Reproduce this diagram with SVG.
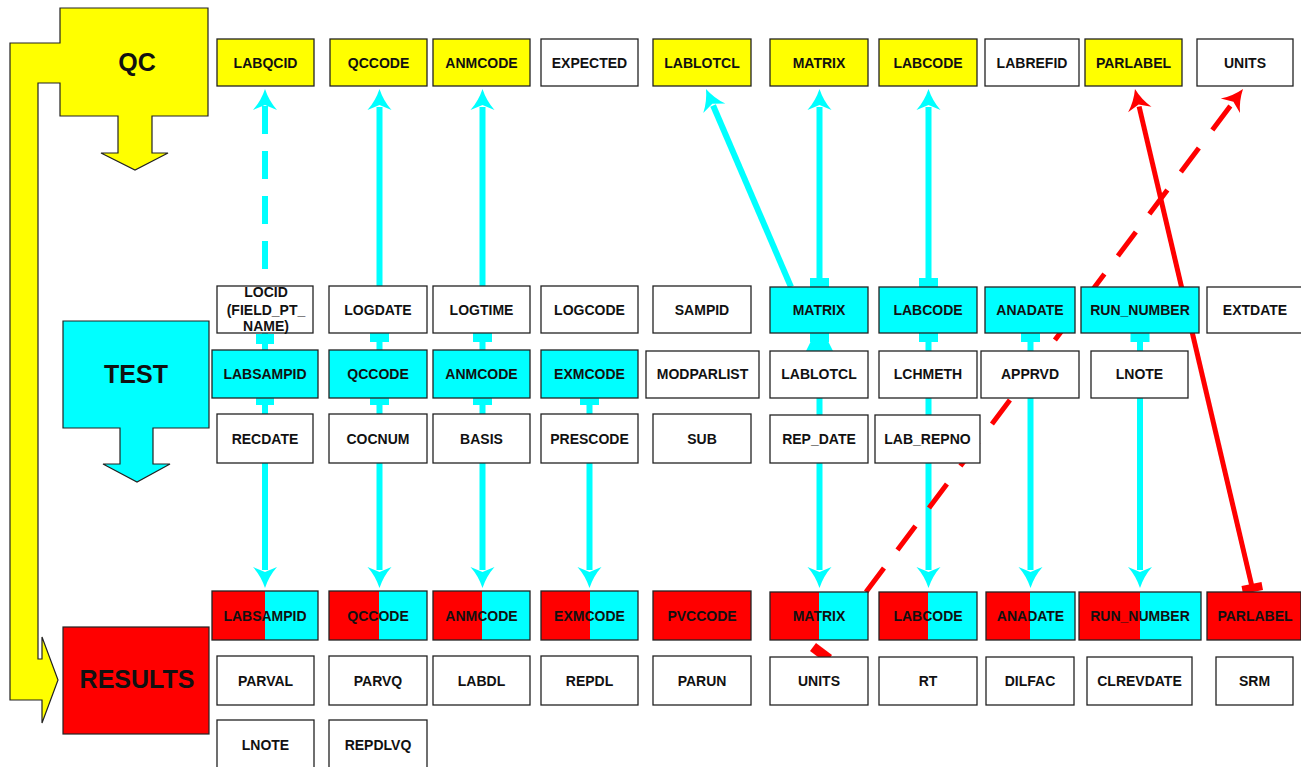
<svg xmlns="http://www.w3.org/2000/svg" width="1301" height="767" viewBox="0 0 1301 767">
<style>
.bx{stroke:#222;stroke-width:1.3}
.w{fill:#fff}.y{fill:#ff0}.c{fill:#0ff}.r{fill:#f00}
.ol{fill:none;stroke:#222;stroke-width:1.3}
.t{font-family:"Liberation Sans",Arial,sans-serif;font-weight:bold;font-size:14px;text-anchor:middle;fill:#111}
.big{font-size:25px}
.cl{stroke:#0ff;stroke-width:6;fill:none}
.rl{stroke:#f00;stroke-width:5;fill:none}
.cf{fill:#0ff}.rf{fill:#f00}
</style>
<defs>
<marker id="ac" markerUnits="userSpaceOnUse" orient="auto" refX="0" refY="0" markerWidth="40" markerHeight="40" overflow="visible">
<path d="M18,0 Q6,-4 -3,-12 L2,0 L-3,12 Q6,4 18,0 Z" fill="#0ff"/>
</marker>
<marker id="ar" markerUnits="userSpaceOnUse" orient="auto" refX="0" refY="0" markerWidth="40" markerHeight="40" overflow="visible">
<path d="M18,0 Q6,-4 -3,-12 L2,0 L-3,12 Q6,4 18,0 Z" fill="#f00"/>
</marker>
</defs>
<rect width="1301" height="767" fill="#fff"/>

<g id="flow-shapes">
<path d="M60,8 L208,8 L208,116 L152,116 L152,153 L168,153 L135,170 L101,153 L118,153 L118,116 L60,116 L60,83 L38,83 L38,659 L42,659 L42,637 L58,680 L42,723 L42,700 L10,700 L10,43 L60,43 Z" fill="#ff0" stroke="#222" stroke-width="1.2"/>
<text class="t big" x="137" y="71">QC</text>
</g>
<g id="test-stage">
<path d="M63,321 L209,321 L209,428 L153,428 L153,464 L170,464 L137,482 L103,464 L120,464 L120,428 L63,428 Z" fill="#0ff" stroke="#222" stroke-width="1.2"/>
<text class="t big" x="136" y="383">TEST</text>
</g>
<g id="results-stage">
<rect x="63" y="627" width="146" height="107" fill="#f00" stroke="#222" stroke-width="1.2"/>
<text class="t big" x="137" y="688">RESULTS</text>
</g>

<g id="connectors">
<path class="cl" d="M265,106 L265,350" stroke-dasharray="28 17"/>
<path class="cl" d="M265,121 L265,107" marker-end="url(#ac)"/>
<rect class="cf" x="256" y="334" width="18" height="10"/>
<path class="cl" d="M265,398 L265,570" marker-end="url(#ac)"/>
<rect class="cf" x="256" y="398" width="18" height="7"/>

<path class="cl" d="M379.5,350 L379.5,107" marker-end="url(#ac)"/>
<rect class="cf" x="370" y="333" width="19" height="9"/>
<path class="cl" d="M379.5,398 L379.5,570" marker-end="url(#ac)"/>
<rect class="cf" x="370" y="398" width="19" height="7"/>

<path class="cl" d="M482.5,350 L482.5,107" marker-end="url(#ac)"/>
<rect class="cf" x="473" y="333" width="19" height="9"/>
<path class="cl" d="M482.5,398 L482.5,570" marker-end="url(#ac)"/>
<rect class="cf" x="473" y="398" width="19" height="7"/>

<path class="cl" d="M589.5,398 L589.5,570" marker-end="url(#ac)"/>
<rect class="cf" x="580" y="398" width="19" height="7"/>

<path class="cl" d="M791,287 L713.1,105.5" marker-end="url(#ac)"/>

<path class="cl" d="M819.5,287 L819.5,107" marker-end="url(#ac)"/>
<rect class="cf" x="810" y="278" width="19" height="9"/>
<path class="cl" d="M819.5,333 L819.5,570" marker-end="url(#ac)"/>
<rect class="cf" x="810" y="333" width="19" height="9"/>
<polygon class="cf" points="811,341 828,341 833,351 806,351"/>

<path class="cl" d="M928.5,287 L928.5,107" marker-end="url(#ac)"/>
<rect class="cf" x="919" y="278" width="19" height="9"/>
<path class="cl" d="M928.5,333 L928.5,570" marker-end="url(#ac)"/>
<rect class="cf" x="919" y="333" width="19" height="9"/>

<path class="cl" d="M1030.5,333 L1030.5,570" marker-end="url(#ac)"/>
<rect class="cf" x="1021" y="333" width="19" height="9"/>

<path class="cl" d="M1140,333 L1140,570" marker-end="url(#ac)"/>
<rect class="cf" x="1130.5" y="333" width="19" height="9"/>

<path class="rl" d="M1253,591 L1139.1,106.5" marker-end="url(#ar)"/>
<polygon class="rf" points="1263,590 1243,594 1241.5,586 1261.5,582"/>

<path class="rl" d="M818,656 L1232.2,103.4" stroke-dasharray="30 22.5" stroke-dashoffset="25" marker-end="url(#ar)"/>
<polygon class="rf" points="826,663 810,651 816,643 832,655"/>
</g>

<g id="qc_labqcid"><rect class="bx y" x="217" y="39" width="97" height="47"/><text class="t" x="265.5" y="67.5">LABQCID</text></g>
<g id="qc_qccode"><rect class="bx y" x="330" y="39" width="97" height="47"/><text class="t" x="378.5" y="67.5">QCCODE</text></g>
<g id="qc_anmcode"><rect class="bx y" x="433" y="39" width="97" height="47"/><text class="t" x="481.5" y="67.5">ANMCODE</text></g>
<g id="qc_expected"><rect class="bx w" x="541" y="39" width="97" height="47"/><text class="t" x="589.5" y="67.5">EXPECTED</text></g>
<g id="qc_lablotcl"><rect class="bx y" x="653" y="39" width="98" height="47"/><text class="t" x="702" y="67.5">LABLOTCL</text></g>
<g id="qc_matrix"><rect class="bx y" x="770" y="39" width="98" height="47"/><text class="t" x="819" y="67.5">MATRIX</text></g>
<g id="qc_labcode"><rect class="bx y" x="879" y="39" width="98" height="47"/><text class="t" x="928" y="67.5">LABCODE</text></g>
<g id="qc_labrefid"><rect class="bx w" x="985" y="39" width="94" height="47"/><text class="t" x="1032" y="67.5">LABREFID</text></g>
<g id="qc_parlabel"><rect class="bx y" x="1085" y="39" width="97" height="47"/><text class="t" x="1133.5" y="67.5">PARLABEL</text></g>
<g id="qc_units"><rect class="bx w" x="1197" y="39" width="96" height="47"/><text class="t" x="1245" y="67.5">UNITS</text></g>

<g id="t_locid"><rect class="bx w" x="217" y="286" width="96" height="47"/><text class="t" x="266" y="297">LOCID</text><text class="t" x="266" y="314.5">(FIELD_PT_</text><text class="t" x="266" y="331">NAME)</text></g>
<g id="t_logdate"><rect class="bx w" x="329" y="286" width="98" height="47"/><text class="t" x="378" y="314.5">LOGDATE</text></g>
<g id="t_logtime"><rect class="bx w" x="433" y="286" width="97" height="47"/><text class="t" x="481.5" y="314.5">LOGTIME</text></g>
<g id="t_logcode"><rect class="bx w" x="541" y="286" width="97" height="47"/><text class="t" x="589.5" y="314.5">LOGCODE</text></g>
<g id="t_sampid"><rect class="bx w" x="653" y="286" width="98" height="47"/><text class="t" x="702" y="314.5">SAMPID</text></g>
<g id="t_matrix"><rect class="bx c" x="770" y="287" width="98" height="46"/><text class="t" x="819" y="314.5">MATRIX</text></g>
<g id="t_labcode"><rect class="bx c" x="879" y="287" width="98" height="46"/><text class="t" x="928" y="314.5">LABCODE</text></g>
<g id="t_anadate"><rect class="bx c" x="985" y="287" width="90" height="46"/><text class="t" x="1030" y="314.5">ANADATE</text></g>
<g id="t_run_number"><rect class="bx c" x="1081" y="287" width="118" height="46"/><text class="t" x="1140" y="314.5">RUN_NUMBER</text></g>
<g id="t_extdate"><rect class="bx w" x="1207" y="287" width="95" height="46"/><text class="t" x="1255" y="314.5">EXTDATE</text></g>

<g id="t_labsampid"><rect class="bx c" x="212" y="350" width="106" height="48"/><text class="t" x="265" y="379">LABSAMPID</text></g>
<g id="t_qccode"><rect class="bx c" x="329" y="350" width="98" height="48"/><text class="t" x="378" y="379">QCCODE</text></g>
<g id="t_anmcode"><rect class="bx c" x="433" y="350" width="97" height="48"/><text class="t" x="481.5" y="379">ANMCODE</text></g>
<g id="t_exmcode"><rect class="bx c" x="541" y="350" width="97" height="48"/><text class="t" x="589.5" y="379">EXMCODE</text></g>
<g id="t_modparlist"><rect class="bx w" x="646" y="351" width="113" height="47"/><text class="t" x="702.5" y="379">MODPARLIST</text></g>
<g id="t_lablotcl"><rect class="bx w" x="770" y="351" width="98" height="47"/><text class="t" x="819" y="379">LABLOTCL</text></g>
<g id="t_lchmeth"><rect class="bx w" x="879" y="351" width="98" height="47"/><text class="t" x="928" y="379">LCHMETH</text></g>
<g id="t_apprvd"><rect class="bx w" x="981" y="351" width="98" height="47"/><text class="t" x="1030" y="379">APPRVD</text></g>
<g id="t_lnote"><rect class="bx w" x="1091" y="351" width="97" height="47"/><text class="t" x="1139.5" y="379">LNOTE</text></g>

<g id="t_recdate"><rect class="bx w" x="217" y="414" width="96" height="49"/><text class="t" x="265" y="443.5">RECDATE</text></g>
<g id="t_cocnum"><rect class="bx w" x="329" y="414" width="98" height="49"/><text class="t" x="378" y="443.5">COCNUM</text></g>
<g id="t_basis"><rect class="bx w" x="433" y="414" width="97" height="49"/><text class="t" x="481.5" y="443.5">BASIS</text></g>
<g id="t_prescode"><rect class="bx w" x="541" y="414" width="97" height="49"/><text class="t" x="589.5" y="443.5">PRESCODE</text></g>
<g id="t_sub"><rect class="bx w" x="653" y="414" width="98" height="49"/><text class="t" x="702" y="443.5">SUB</text></g>
<g id="t_rep_date"><rect class="bx w" x="770" y="415" width="98" height="48"/><text class="t" x="819" y="443.5">REP_DATE</text></g>
<g id="t_lab_repno"><rect class="bx w" x="875" y="415" width="105" height="48"/><text class="t" x="927.5" y="443.5">LAB_REPNO</text></g>

<g id="r_labsampid"><rect class="r" x="212" y="591" width="53" height="49"/><rect class="c" x="265" y="591" width="53" height="49"/><rect class="ol" x="212" y="591" width="106" height="49"/><text class="t" x="265" y="620.5">LABSAMPID</text></g>
<g id="r_qccode"><rect class="r" x="329" y="591" width="50" height="49"/><rect class="c" x="379" y="591" width="48" height="49"/><rect class="ol" x="329" y="591" width="98" height="49"/><text class="t" x="378" y="620.5">QCCODE</text></g>
<g id="r_anmcode"><rect class="r" x="433" y="591" width="49" height="49"/><rect class="c" x="482" y="591" width="48" height="49"/><rect class="ol" x="433" y="591" width="97" height="49"/><text class="t" x="481.5" y="620.5">ANMCODE</text></g>
<g id="r_exmcode"><rect class="r" x="541" y="591" width="49" height="49"/><rect class="c" x="590" y="591" width="48" height="49"/><rect class="ol" x="541" y="591" width="97" height="49"/><text class="t" x="589.5" y="620.5">EXMCODE</text></g>
<g id="r_pvccode"><rect class="bx r" x="653" y="591" width="98" height="49"/><text class="t" x="702" y="620.5">PVCCODE</text></g>
<g id="r_matrix"><rect class="r" x="770" y="592" width="49" height="48"/><rect class="c" x="819" y="592" width="49" height="48"/><rect class="ol" x="770" y="592" width="98" height="48"/><text class="t" x="819" y="620.5">MATRIX</text></g>
<g id="r_labcode"><rect class="r" x="879" y="592" width="49" height="48"/><rect class="c" x="928" y="592" width="49" height="48"/><rect class="ol" x="879" y="592" width="98" height="48"/><text class="t" x="928" y="620.5">LABCODE</text></g>
<g id="r_anadate"><rect class="r" x="986" y="592" width="44" height="48"/><rect class="c" x="1030" y="592" width="45" height="48"/><rect class="ol" x="986" y="592" width="89" height="48"/><text class="t" x="1030.5" y="620.5">ANADATE</text></g>
<g id="r_run_number"><rect class="r" x="1079" y="592" width="61" height="48"/><rect class="c" x="1140" y="592" width="61" height="48"/><rect class="ol" x="1079" y="592" width="122" height="48"/><text class="t" x="1140" y="620.5">RUN_NUMBER</text></g>
<g id="r_parlabel"><rect class="bx r" x="1207" y="592" width="94" height="48"/><text class="t" x="1255" y="620.5">PARLABEL</text></g>

<g id="r_parval"><rect class="bx w" x="217" y="656" width="97" height="49"/><text class="t" x="265.5" y="685.5">PARVAL</text></g>
<g id="r_parvq"><rect class="bx w" x="329" y="656" width="98" height="49"/><text class="t" x="378" y="685.5">PARVQ</text></g>
<g id="r_labdl"><rect class="bx w" x="433" y="656" width="97" height="49"/><text class="t" x="481.5" y="685.5">LABDL</text></g>
<g id="r_repdl"><rect class="bx w" x="541" y="656" width="97" height="49"/><text class="t" x="589.5" y="685.5">REPDL</text></g>
<g id="r_parun"><rect class="bx w" x="653" y="656" width="98" height="49"/><text class="t" x="702" y="685.5">PARUN</text></g>
<g id="r_units"><rect class="bx w" x="770" y="657" width="98" height="48"/><text class="t" x="819" y="685.5">UNITS</text></g>
<g id="r_rt"><rect class="bx w" x="879" y="657" width="98" height="48"/><text class="t" x="928" y="685.5">RT</text></g>
<g id="r_dilfac"><rect class="bx w" x="986" y="657" width="88" height="48"/><text class="t" x="1030" y="685.5">DILFAC</text></g>
<g id="r_clrevdate"><rect class="bx w" x="1087" y="657" width="105" height="48"/><text class="t" x="1139.5" y="685.5">CLREVDATE</text></g>
<g id="r_srm"><rect class="bx w" x="1216" y="657" width="77" height="48"/><text class="t" x="1254.5" y="685.5">SRM</text></g>

<g id="r_lnote"><rect class="bx w" x="217" y="720" width="97" height="50"/><text class="t" x="265.5" y="750">LNOTE</text></g>
<g id="r_repdlvq"><rect class="bx w" x="329" y="720" width="98" height="50"/><text class="t" x="378" y="750">REPDLVQ</text></g>
</svg>
